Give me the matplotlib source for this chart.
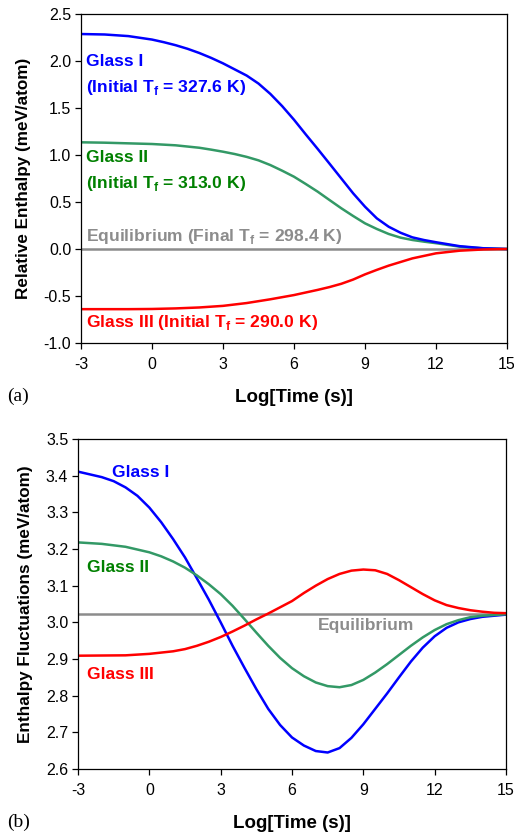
import numpy as np
import matplotlib
matplotlib.use("Agg")
import matplotlib.pyplot as plt

plt.rcParams.update({
    "font.family": ["Liberation Sans", "DejaVu Sans"], "font.size": 10,
    "mathtext.fontset": "custom", "mathtext.rm": "Liberation Sans",
    "mathtext.bf": "Liberation Sans:bold", "axes.linewidth": 0.9,
})

# ---- data ----
# (a) relative enthalpy vs log time
TA_I = [-3, -2, -1, 0, 0.5, 1, 1.5, 2, 2.5, 3, 3.5, 4, 4.5, 5, 5.5, 6, 6.5, 7,
        7.5, 8, 8.5, 9, 9.5, 10, 10.5, 11, 11.5, 12, 13, 14, 15]
H_I = [2.287, 2.282, 2.265, 2.228, 2.20, 2.168, 2.13, 2.085, 2.033, 1.975,
       1.91, 1.845, 1.76, 1.65, 1.52, 1.375, 1.218, 1.065, 0.908, 0.75, 0.592,
       0.45, 0.326, 0.237, 0.173, 0.124, 0.095, 0.072, 0.03, 0.008, 0.0]
TA_II = [-3, -2, -1, 0, 1, 2, 2.5, 3, 3.5, 4, 4.5, 5, 5.5, 6, 6.5, 7, 7.5, 8,
         8.5, 9, 9.5, 10, 10.5, 11, 11.5, 12, 13, 14, 15]
H_II = [1.135, 1.131, 1.124, 1.117, 1.103, 1.077, 1.057, 1.035, 1.01, 0.98,
        0.943, 0.893, 0.833, 0.769, 0.691, 0.61, 0.521, 0.433, 0.351, 0.273,
        0.213, 0.16, 0.121, 0.096, 0.078, 0.062, 0.025, 0.007, 0.0]
TA_III = [-3, -1, 0, 1, 2, 3, 4, 5, 6, 7, 7.5, 8, 8.5, 9, 9.5, 10, 11, 12, 13,
          14, 15]
H_III = [-0.64, -0.64, -0.638, -0.632, -0.622, -0.605, -0.575, -0.535, -0.49,
         -0.435, -0.405, -0.37, -0.325, -0.27, -0.222, -0.177, -0.10, -0.046,
         -0.018, -0.005, 0.0]
H_EQ = 0.0

# (b) enthalpy fluctuations vs log time
TB_I = [-3, -2, -1.5, -1, -0.5, 0, 0.5, 1, 1.5, 2, 2.5, 3, 3.5, 4, 4.5, 5, 5.5,
        6, 6.5, 7, 7.5, 8, 8.5, 9, 9.5, 10, 10.5, 11, 11.5, 12, 12.5, 13, 13.5,
        14, 14.5, 15]
F_I = [3.411, 3.396, 3.385, 3.368, 3.345, 3.313, 3.273, 3.227, 3.177, 3.12,
       3.062, 3.0, 2.936, 2.876, 2.818, 2.764, 2.72, 2.686, 2.664, 2.649,
       2.645, 2.657, 2.685, 2.722, 2.764, 2.806, 2.850, 2.893, 2.931, 2.962,
       2.985, 3.0, 3.009, 3.015, 3.018, 3.021]
TB_II = [-3, -2, -1, 0, 0.5, 1, 1.5, 2, 2.5, 3, 3.5, 4, 4.5, 5, 5.5, 6, 6.5, 7,
         7.5, 8, 8.5, 9, 9.5, 10, 10.5, 11, 11.5, 12, 12.5, 13, 13.5, 14, 15]
F_II = [3.218, 3.214, 3.206, 3.191, 3.180, 3.166, 3.149, 3.128, 3.104, 3.077,
        3.045, 3.009, 2.972, 2.936, 2.903, 2.875, 2.853, 2.836, 2.826, 2.823,
        2.829, 2.843, 2.863, 2.886, 2.911, 2.936, 2.959, 2.979, 2.995, 3.006,
        3.014, 3.018, 3.022]
TB_III = [-3, -1, 0, 1, 1.5, 2, 2.5, 3, 3.5, 4, 4.5, 5, 5.5, 6, 6.5, 7, 7.5, 8,
          8.5, 9, 9.5, 10, 10.5, 11, 11.5, 12, 12.5, 13, 13.5, 14, 14.5, 15]
F_III = [2.909, 2.910, 2.914, 2.921, 2.927, 2.936, 2.947, 2.960, 2.975, 2.991,
         3.008, 3.024, 3.041, 3.058, 3.08, 3.10, 3.118, 3.132, 3.141, 3.144,
         3.142, 3.132, 3.115, 3.096, 3.077, 3.06, 3.047, 3.039, 3.033, 3.029,
         3.026, 3.025]
F_EQ = 3.023

XTICKS = [-3, 0, 3, 6, 9, 12, 15]
YT_A = [-1.0, -0.5, 0.0, 0.5, 1.0, 1.5, 2.0, 2.5]
YT_B = [2.6, 2.7, 2.8, 2.9, 3.0, 3.1, 3.2, 3.3, 3.4, 3.5]

BLUE, GREEN, GREEN_T, RED, GRAY = "#0000FF", "#339966", "#008000", "#FF0000", "#8C8C8C"

W, H = 514, 834
fig = plt.figure(figsize=(W / 100, H / 100), dpi=100)

def pax(l, t, r, b):
    return fig.add_axes([l / W, 1 - b / H, (r - l) / W, (b - t) / H])

def style(ax, yt, ylab):
    ax.set_xlim(-3, 15)
    ax.set_xticks(XTICKS)
    ax.set_xticklabels([str(v) for v in XTICKS])
    ax.set_yticks(yt)
    ax.set_yticklabels(["%.1f" % v for v in yt])
    ax.set_ylim(yt[0], yt[-1])
    ax.tick_params(direction="out", length=4, width=0.9, labelsize=11.5, pad=3)
    ax.tick_params(axis="x", pad=6)
    ax.set_xlabel("Log[Time (s)]", fontweight="bold", fontsize=13.5, labelpad=12)
    ax.set_ylabel(ylab, fontweight="bold", fontsize=12.3, labelpad=9)

kw = dict(fontweight="bold", fontsize=12.6, va="center", ha="left")

# ---- panel (a) ----
ax = pax(81, 14, 507, 343)
ax.axhline(H_EQ, color=GRAY, lw=1.8)
ax.plot(TA_II, H_II, color=GREEN, lw=1.8)
ax.plot(TA_I, H_I, color=BLUE, lw=1.8)
ax.plot(TA_III, H_III, color=RED, lw=1.8)
style(ax, YT_A, "Relative Enthalpy (meV/atom)")
t = ax.transAxes
ax.text(0.012, 0.857, "Glass I", color=BLUE, transform=t, **kw)
ax.text(0.012, 0.778, r"(Initial T$_\mathbf{f}$ = 327.6 K)", color=BLUE, transform=t, **kw)
ax.text(0.012, 0.565, "Glass II", color=GREEN_T, transform=t, **kw)
ax.text(0.012, 0.486, r"(Initial T$_\mathbf{f}$ = 313.0 K)", color=GREEN_T, transform=t, **kw)
ax.text(0.012, 0.325, r"Equilibrium (Final T$_\mathbf{f}$ = 298.4 K)", color=GRAY, transform=t, **kw)
ax.text(0.012, 0.061, r"Glass III (Initial T$_\mathbf{f}$ = 290.0 K)", color=RED, transform=t, **kw)
fig.text(7 / W, 1 - 396 / H, "(a)", family="Liberation Serif", fontsize=14, va="center")

# ---- panel (b) ----
ax = pax(78, 439, 506, 769)
ax.axhline(F_EQ, color=GRAY, lw=1.8)
ax.plot(TB_I, F_I, color=BLUE, lw=1.8)
ax.plot(TB_II, F_II, color=GREEN, lw=1.8)
ax.plot(TB_III, F_III, color=RED, lw=1.8)
style(ax, YT_B, "Enthalpy Fluctuations (meV/atom)")
t = ax.transAxes
ax.text(0.079, 0.897, "Glass I", color=BLUE, transform=t, **kw)
ax.text(0.021, 0.612, "Glass II", color=GREEN_T, transform=t, **kw)
ax.text(0.021, 0.285, "Glass III", color=RED, transform=t, **kw)
ax.text(0.561, 0.436, "Equilibrium", color=GRAY, transform=t, **kw)
fig.text(7 / W, 1 - 822 / H, "(b)", family="Liberation Serif", fontsize=14, va="center")

fig.savefig("out.png", dpi=100)
